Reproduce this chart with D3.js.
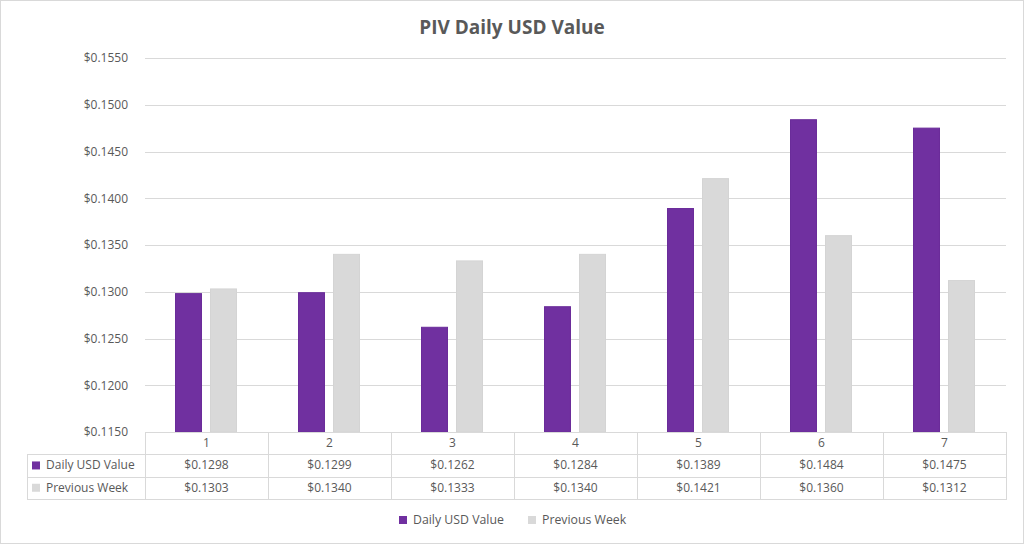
<!DOCTYPE html>
<html><head><meta charset="utf-8">
<script src="https://cdn.jsdelivr.net/npm/d3@7"></script>
<style>body{margin:0;background:#fff}svg{display:block}</style>
</head><body>
<script>
const categories = ["1","2","3","4","5","6","7"];
const seriesNames = ["Daily USD Value","Previous Week"];
const daily = [0.1298,0.1299,0.1262,0.1284,0.1389,0.1484,0.1475];
const prevWeek = [0.1303,0.1340,0.1333,0.1340,0.1421,0.1360,0.1312];
const yTicks = [0.1150,0.1200,0.1250,0.1300,0.1350,0.1400,0.1450,0.1500,0.1550];
const colors = ["#7030A0","#D9D9D9"];
const strokeColors = ["#6A2C9A","#D4D4D4"];

(function(){
const W=1024,H=544;
const font="'Open Sans', 'Noto Sans', sans-serif";
const textCol="#595959", gridCol="#D9D9D9";
const svg=d3.select("body").append("svg").attr("width",W).attr("height",H);
svg.append("rect").attr("x",0.5).attr("y",0.5).attr("width",W-1).attr("height",H-1).attr("fill","#fff").attr("stroke","#D9D9D9");

svg.append("text").attr("x",512).attr("y",34).attr("text-anchor","middle")
  .attr("font-family",font).attr("font-size",19).attr("font-weight","bold").attr("fill",textCol)
  .text("PIV Daily USD Value");

const pLeft=145,pRight=1006,pTop=58,pBottom=432;
const y=d3.scaleLinear().domain([0.1150,0.1550]).range([pBottom,pTop]);
const x0=d3.scaleBand().domain(categories).range([pLeft,pRight]).paddingInner(0).paddingOuter(0);
const x1=d3.scaleBand().domain([0,1]).range([30,x0.bandwidth()-31]).paddingInner(0.229).paddingOuter(0);

svg.append("g").selectAll("line").data(yTicks).join("line")
  .attr("x1",pLeft).attr("x2",pRight).attr("y1",d=>Math.round(y(d))+0.5).attr("y2",d=>Math.round(y(d))+0.5)
  .attr("stroke",gridCol).attr("stroke-width",1);

const yAxis=d3.axisLeft(y).tickValues(yTicks).tickFormat(d=>"$"+d.toFixed(4)).tickSize(0).tickPadding(17);
const ya=svg.append("g").attr("transform",`translate(${pLeft},0)`).call(yAxis);
ya.select(".domain").remove();
ya.selectAll("text").attr("font-family",font).attr("font-size",12).attr("fill",textCol);

const series=[daily,prevWeek];
const g=svg.append("g");
categories.forEach((c,i)=>{
  series.forEach((s,j)=>{
    g.append("rect").attr("x",x0(c)+x1(j)+0.5).attr("width",x1.bandwidth()-1)
      .attr("y",y(s[i])).attr("height",pBottom-y(s[i]))
      .attr("fill",colors[j]).attr("stroke",strokeColors[j]).attr("stroke-width",1);
  });
});

const rowH=22.3;
const tbl=svg.append("g");
const tl=27;
const rows=[pBottom,pBottom+rowH,pBottom+2*rowH,pBottom+3*rowH];
tbl.append("line").attr("x1",pLeft).attr("x2",pRight).attr("y1",pBottom+0.5).attr("y2",pBottom+0.5).attr("stroke",gridCol);
[1,2,3].forEach(k=>{
  tbl.append("line").attr("x1",tl).attr("x2",pRight).attr("y1",Math.round(rows[k])+0.5).attr("y2",Math.round(rows[k])+0.5).attr("stroke",gridCol);
});
tbl.append("line").attr("x1",tl+0.5).attr("x2",tl+0.5).attr("y1",Math.round(rows[1])).attr("y2",Math.round(rows[3])+1).attr("stroke",gridCol);
categories.concat(["end"]).forEach((c,i)=>{
  const xx = i<categories.length ? x0(c) : pRight;
  tbl.append("line").attr("x1",Math.round(xx)+0.5).attr("x2",Math.round(xx)+0.5).attr("y1",pBottom).attr("y2",Math.round(rows[3])+1).attr("stroke",gridCol);
});
categories.forEach((c,i)=>{
  const cx=x0(c)+x0.bandwidth()/2;
  tbl.append("text").attr("x",cx).attr("y",rows[0]+rowH/2+4).attr("text-anchor","middle")
    .attr("font-family",font).attr("font-size",12).attr("fill",textCol).text(c);
  series.forEach((s,j)=>{
    tbl.append("text").attr("x",cx).attr("y",rows[j+1]+rowH/2+4).attr("text-anchor","middle")
      .attr("font-family",font).attr("font-size",12).attr("fill",textCol).text("$"+s[i].toFixed(4));
  });
});
seriesNames.forEach((n,j)=>{
  const cy=rows[j+1]+rowH/2;
  tbl.append("rect").attr("x",32).attr("y",cy-4).attr("width",8).attr("height",8).attr("fill",colors[j]);
  tbl.append("text").attr("x",46).attr("y",cy+4).attr("font-family",font).attr("font-size",12).attr("fill",textCol).text(n);
});

const leg=svg.append("g");
const legX=[399,528];
seriesNames.forEach((n,j)=>{
  leg.append("rect").attr("x",legX[j]).attr("y",516).attr("width",8).attr("height",8).attr("fill",colors[j]);
  leg.append("text").attr("x",legX[j]+14).attr("y",524).attr("font-family",font).attr("font-size",12.3).attr("fill",textCol).text(n);
});
})();
</script>
</body></html>
